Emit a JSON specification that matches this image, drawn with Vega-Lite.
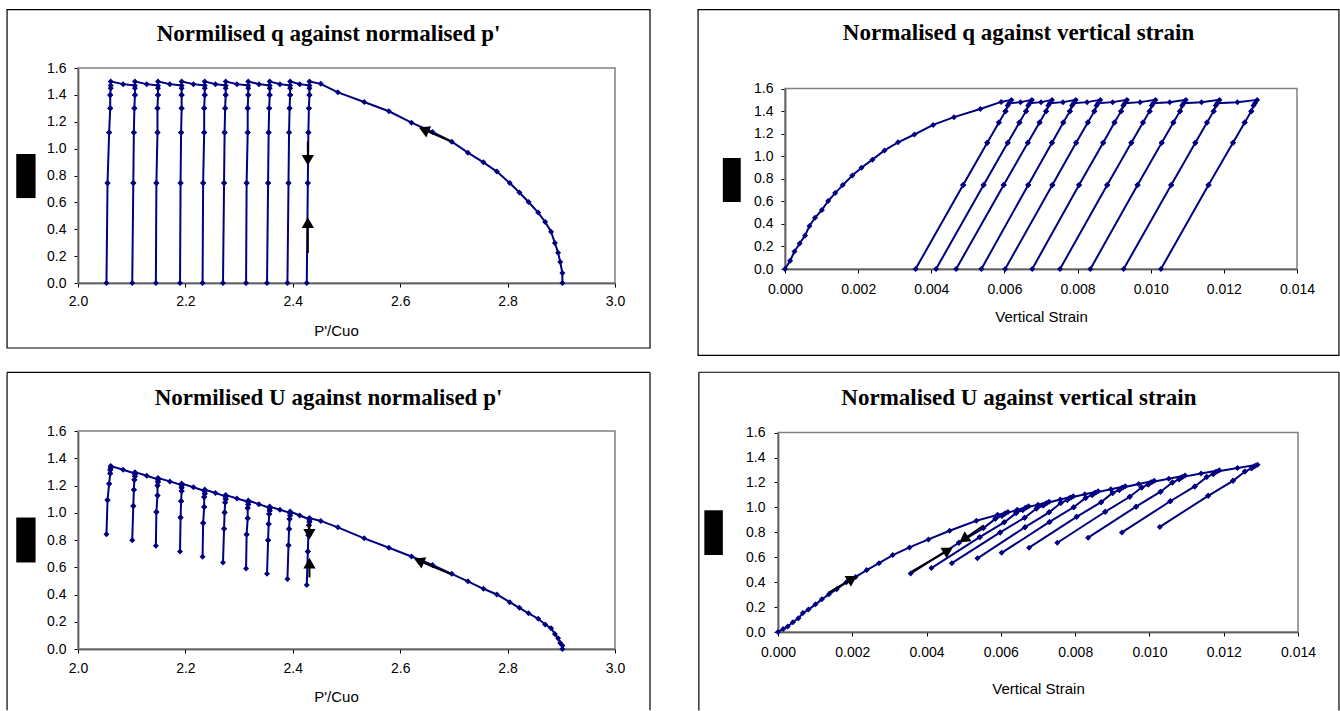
{
"$schema": "https://vega.github.io/schema/vega-lite/v6.json",
"background": "white",
"padding": {"left": 6, "top": 8, "right": 0, "bottom": 0},
"config": {
  "view": {"stroke": null},
  "axis": {"labelFont": "Liberation Sans", "titleFont": "Liberation Sans", "labelFontSize": 14, "titleFontSize": 15, "titleFontWeight": "normal", "labelColor": "#000", "titleColor": "#000", "domainColor": "#000", "tickColor": "#000", "grid": false, "tickSize": 4, "domainWidth": 1.5, "labelFlush": false, "labelOverlap": false, "zindex": 1},
  "title": {"font": "Liberation Serif", "fontSize": 23, "fontWeight": "bold", "color": "#000"}
},
"datasets": {
  "test": [
    {"i":1,"p":2.902,"q":0.000,"u":0.000,"e":0.00000},
    {"i":2,"p":2.902,"q":0.074,"u":0.025,"e":0.00014},
    {"i":3,"p":2.898,"q":0.156,"u":0.044,"e":0.00026},
    {"i":4,"p":2.894,"q":0.226,"u":0.078,"e":0.00040},
    {"i":5,"p":2.888,"q":0.298,"u":0.110,"e":0.00055},
    {"i":6,"p":2.881,"q":0.382,"u":0.152,"e":0.00067},
    {"i":7,"p":2.870,"q":0.454,"u":0.180,"e":0.00082},
    {"i":8,"p":2.857,"q":0.524,"u":0.222,"e":0.00101},
    {"i":9,"p":2.839,"q":0.603,"u":0.262,"e":0.00118},
    {"i":10,"p":2.822,"q":0.673,"u":0.302,"e":0.00137},
    {"i":11,"p":2.804,"q":0.744,"u":0.344,"e":0.00158},
    {"i":12,"p":2.780,"q":0.829,"u":0.400,"e":0.00184},
    {"i":13,"p":2.755,"q":0.898,"u":0.442,"e":0.00209},
    {"i":14,"p":2.726,"q":0.970,"u":0.497,"e":0.00239},
    {"i":15,"p":2.696,"q":1.052,"u":0.552,"e":0.00272},
    {"i":16,"p":2.660,"q":1.124,"u":0.617,"e":0.00309},
    {"i":17,"p":2.621,"q":1.193,"u":0.679,"e":0.00354},
    {"i":18,"p":2.579,"q":1.278,"u":0.743,"e":0.00405},
    {"i":19,"p":2.533,"q":1.347,"u":0.812,"e":0.00462},
    {"i":20,"p":2.484,"q":1.419,"u":0.893,"e":0.00534},
    {"i":21,"p":2.452,"q":1.482,"u":0.940,"e":0.00591},
    {"i":22,"p":2.431,"q":1.500,"u":0.962,"e":0.00619},
    {"i":23,"p":2.431,"q":1.450,"u":0.947,"e":0.00609},
    {"i":24,"p":2.431,"q":1.400,"u":0.932,"e":0.00603},
    {"i":25,"p":2.430,"q":1.300,"u":0.908,"e":0.00585},
    {"i":26,"p":2.429,"q":1.120,"u":0.834,"e":0.00553},
    {"i":27,"p":2.428,"q":0.745,"u":0.716,"e":0.00487},
    {"i":28,"p":2.426,"q":0.000,"u":0.469,"e":0.00357},
    {"i":29,"p":2.428,"q":0.745,"u":0.716,"e":0.00487},
    {"i":30,"p":2.429,"q":1.120,"u":0.834,"e":0.00553},
    {"i":31,"p":2.430,"q":1.300,"u":0.908,"e":0.00585},
    {"i":32,"p":2.431,"q":1.400,"u":0.932,"e":0.00603},
    {"i":33,"p":2.431,"q":1.470,"u":0.952,"e":0.00613},
    {"i":34,"p":2.413,"q":1.480,"u":0.980,"e":0.00644},
    {"i":35,"p":2.395,"q":1.500,"u":1.009,"e":0.00675},
    {"i":36,"p":2.395,"q":1.450,"u":0.994,"e":0.00665},
    {"i":37,"p":2.395,"q":1.400,"u":0.979,"e":0.00659},
    {"i":38,"p":2.394,"q":1.300,"u":0.954,"e":0.00641},
    {"i":39,"p":2.393,"q":1.120,"u":0.880,"e":0.00609},
    {"i":40,"p":2.392,"q":0.745,"u":0.761,"e":0.00543},
    {"i":41,"p":2.390,"q":0.000,"u":0.513,"e":0.00413},
    {"i":42,"p":2.392,"q":0.745,"u":0.761,"e":0.00543},
    {"i":43,"p":2.393,"q":1.120,"u":0.880,"e":0.00609},
    {"i":44,"p":2.394,"q":1.300,"u":0.954,"e":0.00641},
    {"i":45,"p":2.395,"q":1.400,"u":0.979,"e":0.00659},
    {"i":46,"p":2.395,"q":1.470,"u":0.999,"e":0.00669},
    {"i":47,"p":2.376,"q":1.480,"u":1.022,"e":0.00700},
    {"i":48,"p":2.357,"q":1.500,"u":1.045,"e":0.00730},
    {"i":49,"p":2.357,"q":1.450,"u":1.030,"e":0.00720},
    {"i":50,"p":2.357,"q":1.400,"u":1.015,"e":0.00714},
    {"i":51,"p":2.356,"q":1.300,"u":0.991,"e":0.00696},
    {"i":52,"p":2.355,"q":1.120,"u":0.917,"e":0.00664},
    {"i":53,"p":2.354,"q":0.745,"u":0.799,"e":0.00598},
    {"i":54,"p":2.352,"q":0.000,"u":0.552,"e":0.00468},
    {"i":55,"p":2.354,"q":0.745,"u":0.799,"e":0.00598},
    {"i":56,"p":2.355,"q":1.120,"u":0.917,"e":0.00664},
    {"i":57,"p":2.356,"q":1.300,"u":0.991,"e":0.00696},
    {"i":58,"p":2.357,"q":1.400,"u":1.015,"e":0.00714},
    {"i":59,"p":2.357,"q":1.470,"u":1.035,"e":0.00724},
    {"i":60,"p":2.337,"q":1.480,"u":1.063,"e":0.00760},
    {"i":61,"p":2.317,"q":1.500,"u":1.090,"e":0.00795},
    {"i":62,"p":2.317,"q":1.450,"u":1.075,"e":0.00785},
    {"i":63,"p":2.317,"q":1.400,"u":1.060,"e":0.00779},
    {"i":64,"p":2.316,"q":1.300,"u":1.035,"e":0.00761},
    {"i":65,"p":2.316,"q":1.120,"u":0.960,"e":0.00730},
    {"i":66,"p":2.314,"q":0.745,"u":0.841,"e":0.00665},
    {"i":67,"p":2.313,"q":0.000,"u":0.591,"e":0.00537},
    {"i":68,"p":2.314,"q":0.745,"u":0.841,"e":0.00665},
    {"i":69,"p":2.316,"q":1.120,"u":0.960,"e":0.00730},
    {"i":70,"p":2.316,"q":1.300,"u":1.035,"e":0.00761},
    {"i":71,"p":2.317,"q":1.400,"u":1.060,"e":0.00779},
    {"i":72,"p":2.317,"q":1.470,"u":1.080,"e":0.00789},
    {"i":73,"p":2.296,"q":1.480,"u":1.105,"e":0.00826},
    {"i":74,"p":2.275,"q":1.500,"u":1.130,"e":0.00862},
    {"i":75,"p":2.275,"q":1.450,"u":1.115,"e":0.00852},
    {"i":76,"p":2.275,"q":1.400,"u":1.100,"e":0.00846},
    {"i":77,"p":2.274,"q":1.300,"u":1.076,"e":0.00828},
    {"i":78,"p":2.273,"q":1.120,"u":1.001,"e":0.00796},
    {"i":79,"p":2.272,"q":0.745,"u":0.883,"e":0.00731},
    {"i":80,"p":2.270,"q":0.000,"u":0.635,"e":0.00602},
    {"i":81,"p":2.272,"q":0.745,"u":0.883,"e":0.00731},
    {"i":82,"p":2.273,"q":1.120,"u":1.001,"e":0.00796},
    {"i":83,"p":2.274,"q":1.300,"u":1.076,"e":0.00828},
    {"i":84,"p":2.275,"q":1.400,"u":1.100,"e":0.00846},
    {"i":85,"p":2.275,"q":1.470,"u":1.120,"e":0.00856},
    {"i":86,"p":2.256,"q":1.480,"u":1.145,"e":0.00896},
    {"i":87,"p":2.236,"q":1.500,"u":1.170,"e":0.00935},
    {"i":88,"p":2.236,"q":1.450,"u":1.155,"e":0.00925},
    {"i":89,"p":2.236,"q":1.400,"u":1.140,"e":0.00919},
    {"i":90,"p":2.235,"q":1.300,"u":1.116,"e":0.00901},
    {"i":91,"p":2.235,"q":1.120,"u":1.042,"e":0.00870},
    {"i":92,"p":2.233,"q":0.745,"u":0.924,"e":0.00804},
    {"i":93,"p":2.232,"q":0.000,"u":0.677,"e":0.00676},
    {"i":94,"p":2.233,"q":0.745,"u":0.924,"e":0.00804},
    {"i":95,"p":2.235,"q":1.120,"u":1.042,"e":0.00870},
    {"i":96,"p":2.235,"q":1.300,"u":1.116,"e":0.00901},
    {"i":97,"p":2.236,"q":1.400,"u":1.140,"e":0.00919},
    {"i":98,"p":2.236,"q":1.470,"u":1.160,"e":0.00929},
    {"i":99,"p":2.215,"q":1.480,"u":1.187,"e":0.00971},
    {"i":100,"p":2.193,"q":1.500,"u":1.214,"e":0.01013},
    {"i":101,"p":2.193,"q":1.450,"u":1.199,"e":0.01003},
    {"i":102,"p":2.193,"q":1.400,"u":1.184,"e":0.00997},
    {"i":103,"p":2.193,"q":1.300,"u":1.159,"e":0.00979},
    {"i":104,"p":2.192,"q":1.120,"u":1.085,"e":0.00947},
    {"i":105,"p":2.191,"q":0.745,"u":0.965,"e":0.00881},
    {"i":106,"p":2.190,"q":0.000,"u":0.716,"e":0.00752},
    {"i":107,"p":2.191,"q":0.745,"u":0.965,"e":0.00881},
    {"i":108,"p":2.192,"q":1.120,"u":1.085,"e":0.00947},
    {"i":109,"p":2.193,"q":1.300,"u":1.159,"e":0.00979},
    {"i":110,"p":2.193,"q":1.400,"u":1.184,"e":0.00997},
    {"i":111,"p":2.193,"q":1.470,"u":1.204,"e":0.01007},
    {"i":112,"p":2.171,"q":1.480,"u":1.230,"e":0.01052},
    {"i":113,"p":2.149,"q":1.500,"u":1.255,"e":0.01096},
    {"i":114,"p":2.149,"q":1.450,"u":1.240,"e":0.01086},
    {"i":115,"p":2.149,"q":1.400,"u":1.225,"e":0.01080},
    {"i":116,"p":2.148,"q":1.300,"u":1.200,"e":0.01062},
    {"i":117,"p":2.148,"q":1.120,"u":1.126,"e":0.01030},
    {"i":118,"p":2.146,"q":0.745,"u":1.006,"e":0.00964},
    {"i":119,"p":2.145,"q":0.000,"u":0.757,"e":0.00835},
    {"i":120,"p":2.146,"q":0.745,"u":1.006,"e":0.00964},
    {"i":121,"p":2.148,"q":1.120,"u":1.126,"e":0.01030},
    {"i":122,"p":2.148,"q":1.300,"u":1.200,"e":0.01062},
    {"i":123,"p":2.149,"q":1.400,"u":1.225,"e":0.01080},
    {"i":124,"p":2.149,"q":1.470,"u":1.245,"e":0.01090},
    {"i":125,"p":2.128,"q":1.480,"u":1.272,"e":0.01139},
    {"i":126,"p":2.106,"q":1.500,"u":1.298,"e":0.01188},
    {"i":127,"p":2.106,"q":1.450,"u":1.283,"e":0.01178},
    {"i":128,"p":2.106,"q":1.400,"u":1.268,"e":0.01172},
    {"i":129,"p":2.105,"q":1.300,"u":1.243,"e":0.01154},
    {"i":130,"p":2.104,"q":1.120,"u":1.168,"e":0.01122},
    {"i":131,"p":2.103,"q":0.745,"u":1.049,"e":0.01056},
    {"i":132,"p":2.101,"q":0.000,"u":0.799,"e":0.00926},
    {"i":133,"p":2.103,"q":0.745,"u":1.049,"e":0.01056},
    {"i":134,"p":2.104,"q":1.120,"u":1.168,"e":0.01122},
    {"i":135,"p":2.105,"q":1.300,"u":1.243,"e":0.01154},
    {"i":136,"p":2.106,"q":1.400,"u":1.268,"e":0.01172},
    {"i":137,"p":2.106,"q":1.470,"u":1.288,"e":0.01182},
    {"i":138,"p":2.084,"q":1.480,"u":1.316,"e":0.01237},
    {"i":139,"p":2.061,"q":1.500,"u":1.343,"e":0.01291},
    {"i":140,"p":2.061,"q":1.450,"u":1.328,"e":0.01281},
    {"i":141,"p":2.060,"q":1.400,"u":1.313,"e":0.01275},
    {"i":142,"p":2.060,"q":1.300,"u":1.288,"e":0.01257},
    {"i":143,"p":2.058,"q":1.120,"u":1.213,"e":0.01225},
    {"i":144,"p":2.055,"q":0.745,"u":1.093,"e":0.01158},
    {"i":145,"p":2.053,"q":0.000,"u":0.843,"e":0.01028},
    {"i":146,"p":2.055,"q":0.745,"u":1.093,"e":0.01158},
    {"i":147,"p":2.058,"q":1.120,"u":1.213,"e":0.01225},
    {"i":148,"p":2.060,"q":1.300,"u":1.288,"e":0.01257},
    {"i":149,"p":2.060,"q":1.400,"u":1.313,"e":0.01275},
    {"i":150,"p":2.061,"q":1.470,"u":1.333,"e":0.01285}
  ],
  "arrP1": [
    {"id":"diag","x":2.694,"y":1.054,"x2":2.644,"y2":1.141},
    {"id":"down","x":2.428,"y":1.054,"x2":2.428,"y2":0.913},
    {"id":"up","x":2.428,"y":0.223,"x2":2.428,"y2":0.449}
  ],
  "arrP3": [
    {"id":"diag","x":2.694,"y":0.549,"x2":2.635,"y2":0.647},
    {"id":"down","x":2.431,"y":0.93,"x2":2.431,"y2":0.842},
    {"id":"up","x":2.431,"y":0.525,"x2":2.431,"y2":0.630}
  ],
  "arrP4": [
    {"id":"a","x":0.00137,"y":0.316,"x2":0.0020,"y2":0.428},
    {"id":"b","x":0.00359,"y":0.482,"x2":0.00458,"y2":0.655},
    {"id":"c","x":0.00554,"y":0.856,"x2":0.0050,"y2":0.744}
  ]
},
"spacing": 15,
"vconcat": [
{
 "spacing": 46,
 "hconcat": [
 {
  "width": 537, "height": 215,
  "title": {"text": "Normilised q against normalised p'", "offset": -59.5, "frame": "bounds", "anchor": "middle", "baseline": "bottom"},
  "layer": [
   {"data": {"values": [{}]}, "mark": {"type": "rect", "fill": "transparent", "stroke": "#000", "strokeWidth": 1.2},
    "encoding": {"x": {"datum": 1.8679, "type": "quantitative", "scale": {"domain": [2, 3], "nice": false, "zero": false}}, "x2": {"datum": 3.0652},
                 "y": {"datum": 2.034, "type": "quantitative", "scale": {"domain": [0, 1.6], "nice": false, "zero": false}}, "y2": {"datum": -0.4836}}},
   {"data": {"values": [{}]}, "mark": {"type": "rect", "fill": "transparent", "stroke": "#808080", "strokeWidth": 1.5},
    "encoding": {"x": {"datum": 2, "type": "quantitative", "scale": {"domain": [2, 3], "nice": false, "zero": false}}, "x2": {"datum": 3},
                 "y": {"datum": 1.6, "type": "quantitative", "scale": {"domain": [0, 1.6], "nice": false, "zero": false}}, "y2": {"datum": 0}}},
   {"data": {"values": [{}]}, "mark": {"type": "rect", "fill": "#000"},
    "encoding": {"x": {"datum": 1.885, "type": "quantitative", "scale": {"domain": [2, 3], "nice": false, "zero": false}}, "x2": {"datum": 1.921},
                 "y": {"datum": 0.960, "type": "quantitative", "scale": {"domain": [0, 1.6], "nice": false, "zero": false}}, "y2": {"datum": 0.632}}},
   {"data": {"name": "test"}, "mark": {"type": "line", "color": "#000080", "strokeWidth": 2, "point": {"filled": true, "shape": "diamond", "size": 36, "color": "#000080"}},
    "encoding": {"x": {"field": "p", "type": "quantitative", "scale": {"domain": [2, 3], "nice": false, "zero": false}, "axis": {"values": [2, 2.2, 2.4, 2.6, 2.8, 3], "tickCount": 20, "format": ".1f", "title": "P'/Cuo", "labelPadding": 7, "titlePadding": 15, "titleX": 258, "labelOverlap": false}},
                 "y": {"field": "q", "type": "quantitative", "scale": {"domain": [0, 1.6], "nice": false, "zero": false}, "axis": {"values": [0, 0.2, 0.4, 0.6, 0.8, 1, 1.2, 1.4, 1.6], "tickCount": 20, "format": ".1f", "title": null, "labelPadding": 8, "labelOverlap": false}},
                 "order": {"field": "i", "type": "quantitative"}}},
   {"data": {"name": "arrP1"}, "mark": {"type": "rule", "color": "#000", "strokeWidth": 2},
    "encoding": {"x": {"field": "x", "type": "quantitative", "scale": {"domain": [2, 3], "nice": false, "zero": false}}, "x2": {"field": "x2"},
                 "y": {"field": "y", "type": "quantitative", "scale": {"domain": [0, 1.6], "nice": false, "zero": false}}, "y2": {"field": "y2"}}},
   {"data": {"name": "arrP1"}, "transform": [{"filter": "datum.id == 'diag'"}], "mark": {"type": "point", "shape": "triangle-up", "angle": 293.4, "filled": true, "size": 150, "color": "#000", "opacity": 1},
    "encoding": {"x": {"field": "x2", "type": "quantitative", "scale": {"domain": [2, 3], "nice": false, "zero": false}}, "y": {"field": "y2", "type": "quantitative", "scale": {"domain": [0, 1.6], "nice": false, "zero": false}}}},
   {"data": {"name": "arrP1"}, "transform": [{"filter": "datum.id == 'down'"}], "mark": {"type": "point", "shape": "triangle-down", "filled": true, "size": 150, "color": "#000", "opacity": 1},
    "encoding": {"x": {"field": "x2", "type": "quantitative", "scale": {"domain": [2, 3], "nice": false, "zero": false}}, "y": {"field": "y2", "type": "quantitative", "scale": {"domain": [0, 1.6], "nice": false, "zero": false}}}},
   {"data": {"name": "arrP1"}, "transform": [{"filter": "datum.id == 'up'"}], "mark": {"type": "point", "shape": "triangle-up", "filled": true, "size": 150, "color": "#000", "opacity": 1},
    "encoding": {"x": {"field": "x2", "type": "quantitative", "scale": {"domain": [2, 3], "nice": false, "zero": false}}, "y": {"field": "y2", "type": "quantitative", "scale": {"domain": [0, 1.6], "nice": false, "zero": false}}}}
  ]
 },
 {
  "width": 512, "height": 201,
  "title": {"text": "Normalised q against vertical strain", "offset": -59.5, "frame": "bounds", "anchor": "middle", "baseline": "bottom"},
  "layer": [
   {"data": {"values": [{}]}, "mark": {"type": "rect", "fill": "transparent", "stroke": "#000", "strokeWidth": 1.2},
    "encoding": {"x": {"datum": -0.002377, "type": "quantitative", "scale": {"domain": [0, 0.014], "nice": false, "zero": false}}, "x2": {"datum": 0.015147},
                 "y": {"datum": 2.3007, "type": "quantitative", "scale": {"domain": [0, 1.6], "range": [201, 20.6], "nice": false, "zero": false}}, "y2": {"datum": -0.7654}}},
   {"data": {"values": [{}]}, "mark": {"type": "rect", "fill": "transparent", "stroke": "#808080", "strokeWidth": 1.5},
    "encoding": {"x": {"datum": 0, "type": "quantitative", "scale": {"domain": [0, 0.014], "nice": false, "zero": false}}, "x2": {"datum": 0.014},
                 "y": {"datum": 1.6, "type": "quantitative", "scale": {"domain": [0, 1.6], "range": [201, 20.6], "nice": false, "zero": false}}, "y2": {"datum": 0}}},
   {"data": {"values": [{}]}, "mark": {"type": "rect", "fill": "#000"},
    "encoding": {"x": {"datum": -0.0017, "type": "quantitative", "scale": {"domain": [0, 0.014], "nice": false, "zero": false}}, "x2": {"datum": -0.00121},
                 "y": {"datum": 0.9845, "type": "quantitative", "scale": {"domain": [0, 1.6], "range": [201, 20.6], "nice": false, "zero": false}}, "y2": {"datum": 0.594}}},
   {"data": {"name": "test"}, "mark": {"type": "line", "color": "#000080", "strokeWidth": 2, "point": {"filled": true, "shape": "diamond", "size": 36, "color": "#000080"}},
    "encoding": {"x": {"field": "e", "type": "quantitative", "scale": {"domain": [0, 0.014], "nice": false, "zero": false}, "axis": {"values": [0, 0.002, 0.004, 0.006, 0.008, 0.01, 0.012, 0.014], "tickCount": 20, "format": ".3f", "title": "Vertical Strain", "labelPadding": 9, "titlePadding": 13, "labelOverlap": false}},
                 "y": {"field": "q", "type": "quantitative", "scale": {"domain": [0, 1.6], "range": [201, 20.6], "nice": false, "zero": false}, "axis": {"values": [0, 0.2, 0.4, 0.6, 0.8, 1, 1.2, 1.4, 1.6], "tickCount": 20, "format": ".1f", "title": null, "labelPadding": 8, "labelOverlap": false}},
                 "order": {"field": "i", "type": "quantitative"}}}
  ]
 }
 ]
},
{
 "spacing": 47,
 "hconcat": [
 {
  "width": 537, "height": 218,
  "title": {"text": "Normilised U against normalised p'", "offset": -61, "frame": "bounds", "anchor": "middle", "baseline": "bottom"},
  "layer": [
   {"data": {"values": [{}]}, "mark": {"type": "rule", "color": "#000", "strokeWidth": 1.2},
    "encoding": {"x": {"datum": 1.8679, "type": "quantitative", "scale": {"domain": [2, 3], "nice": false, "zero": false}}, "x2": {"datum": 3.0652},
                 "y": {"datum": 2.0302, "type": "quantitative", "scale": {"domain": [0, 1.6], "nice": false, "zero": false}}}},
   {"data": {"values": [{}]}, "mark": {"type": "rule", "color": "#000", "strokeWidth": 1.2},
    "encoding": {"x": {"datum": 1.8679, "type": "quantitative", "scale": {"domain": [2, 3], "nice": false, "zero": false}},
                 "y": {"datum": 2.0302, "type": "quantitative", "scale": {"domain": [0, 1.6], "nice": false, "zero": false}}, "y2": {"datum": -0.45}}},
   {"data": {"values": [{}]}, "mark": {"type": "rule", "color": "#000", "strokeWidth": 1.2},
    "encoding": {"x": {"datum": 3.0652, "type": "quantitative", "scale": {"domain": [2, 3], "nice": false, "zero": false}},
                 "y": {"datum": 2.0302, "type": "quantitative", "scale": {"domain": [0, 1.6], "nice": false, "zero": false}}, "y2": {"datum": -0.45}}},
   {"data": {"values": [{}]}, "mark": {"type": "rect", "fill": "transparent", "stroke": "#808080", "strokeWidth": 1.5},
    "encoding": {"x": {"datum": 2, "type": "quantitative", "scale": {"domain": [2, 3], "nice": false, "zero": false}}, "x2": {"datum": 3},
                 "y": {"datum": 1.6, "type": "quantitative", "scale": {"domain": [0, 1.6], "nice": false, "zero": false}}, "y2": {"datum": 0}}},
   {"data": {"values": [{}]}, "mark": {"type": "rect", "fill": "#000"},
    "encoding": {"x": {"datum": 1.885, "type": "quantitative", "scale": {"domain": [2, 3], "nice": false, "zero": false}}, "x2": {"datum": 1.921},
                 "y": {"datum": 0.965, "type": "quantitative", "scale": {"domain": [0, 1.6], "nice": false, "zero": false}}, "y2": {"datum": 0.635}}},
   {"data": {"name": "test"}, "mark": {"type": "line", "color": "#000080", "strokeWidth": 2, "point": {"filled": true, "shape": "diamond", "size": 36, "color": "#000080"}},
    "encoding": {"x": {"field": "p", "type": "quantitative", "scale": {"domain": [2, 3], "nice": false, "zero": false}, "axis": {"values": [2, 2.2, 2.4, 2.6, 2.8, 3], "tickCount": 20, "format": ".1f", "title": "P'/Cuo", "labelPadding": 8, "titlePadding": 14, "titleX": 258, "labelOverlap": false}},
                 "y": {"field": "u", "type": "quantitative", "scale": {"domain": [0, 1.6], "nice": false, "zero": false}, "axis": {"values": [0, 0.2, 0.4, 0.6, 0.8, 1, 1.2, 1.4, 1.6], "tickCount": 20, "format": ".1f", "title": null, "labelPadding": 8, "labelOverlap": false}},
                 "order": {"field": "i", "type": "quantitative"}}},
   {"data": {"name": "arrP3"}, "mark": {"type": "rule", "color": "#000", "strokeWidth": 2},
    "encoding": {"x": {"field": "x", "type": "quantitative", "scale": {"domain": [2, 3], "nice": false, "zero": false}}, "x2": {"field": "x2"},
                 "y": {"field": "y", "type": "quantitative", "scale": {"domain": [0, 1.6], "nice": false, "zero": false}}, "y2": {"field": "y2"}}},
   {"data": {"name": "arrP3"}, "transform": [{"filter": "datum.id == 'diag'"}], "mark": {"type": "point", "shape": "triangle-up", "angle": 292.9, "filled": true, "size": 150, "color": "#000", "opacity": 1},
    "encoding": {"x": {"field": "x2", "type": "quantitative", "scale": {"domain": [2, 3], "nice": false, "zero": false}}, "y": {"field": "y2", "type": "quantitative", "scale": {"domain": [0, 1.6], "nice": false, "zero": false}}}},
   {"data": {"name": "arrP3"}, "transform": [{"filter": "datum.id == 'down'"}], "mark": {"type": "point", "shape": "triangle-down", "filled": true, "size": 150, "color": "#000", "opacity": 1},
    "encoding": {"x": {"field": "x2", "type": "quantitative", "scale": {"domain": [2, 3], "nice": false, "zero": false}}, "y": {"field": "y2", "type": "quantitative", "scale": {"domain": [0, 1.6], "nice": false, "zero": false}}}},
   {"data": {"name": "arrP3"}, "transform": [{"filter": "datum.id == 'up'"}], "mark": {"type": "point", "shape": "triangle-up", "filled": true, "size": 150, "color": "#000", "opacity": 1},
    "encoding": {"x": {"field": "x2", "type": "quantitative", "scale": {"domain": [2, 3], "nice": false, "zero": false}}, "y": {"field": "y2", "type": "quantitative", "scale": {"domain": [0, 1.6], "nice": false, "zero": false}}}}
  ]
 },
 {
  "width": 520, "height": 201,
  "title": {"text": "Normalised U against vertical strain", "offset": -61, "frame": "bounds", "anchor": "middle", "baseline": "bottom"},
  "layer": [
   {"data": {"values": [{}]}, "mark": {"type": "rule", "color": "#000", "strokeWidth": 1.2},
    "encoding": {"x": {"datum": -0.002131, "type": "quantitative", "scale": {"domain": [0, 0.014], "nice": false, "zero": false}}, "x2": {"datum": 0.015103},
                 "y": {"datum": 2.0843, "type": "quantitative", "scale": {"domain": [0, 1.6], "range": [201, 1.6], "nice": false, "zero": false}}}},
   {"data": {"values": [{}]}, "mark": {"type": "rule", "color": "#000", "strokeWidth": 1.2},
    "encoding": {"x": {"datum": -0.002131, "type": "quantitative", "scale": {"domain": [0, 0.014], "nice": false, "zero": false}},
                 "y": {"datum": 2.0843, "type": "quantitative", "scale": {"domain": [0, 1.6], "range": [201, 1.6], "nice": false, "zero": false}}, "y2": {"datum": -0.63}}},
   {"data": {"values": [{}]}, "mark": {"type": "rule", "color": "#000", "strokeWidth": 1.2},
    "encoding": {"x": {"datum": 0.015103, "type": "quantitative", "scale": {"domain": [0, 0.014], "nice": false, "zero": false}},
                 "y": {"datum": 2.0843, "type": "quantitative", "scale": {"domain": [0, 1.6], "range": [201, 1.6], "nice": false, "zero": false}}, "y2": {"datum": -0.63}}},
   {"data": {"values": [{}]}, "mark": {"type": "rect", "fill": "transparent", "stroke": "#808080", "strokeWidth": 1.5},
    "encoding": {"x": {"datum": 0, "type": "quantitative", "scale": {"domain": [0, 0.014], "nice": false, "zero": false}}, "x2": {"datum": 0.014},
                 "y": {"datum": 1.6, "type": "quantitative", "scale": {"domain": [0, 1.6], "range": [201, 1.6], "nice": false, "zero": false}}, "y2": {"datum": 0}}},
   {"data": {"values": [{}]}, "mark": {"type": "rect", "fill": "#000"},
    "encoding": {"x": {"datum": -0.001983, "type": "quantitative", "scale": {"domain": [0, 0.014], "nice": false, "zero": false}}, "x2": {"datum": -0.001485},
                 "y": {"datum": 0.9767, "type": "quantitative", "scale": {"domain": [0, 1.6], "range": [201, 1.6], "nice": false, "zero": false}}, "y2": {"datum": 0.618}}},
   {"data": {"name": "test"}, "mark": {"type": "line", "color": "#000080", "strokeWidth": 2, "point": {"filled": true, "shape": "diamond", "size": 36, "color": "#000080"}},
    "encoding": {"x": {"field": "e", "type": "quantitative", "scale": {"domain": [0, 0.014], "nice": false, "zero": false}, "axis": {"values": [0, 0.002, 0.004, 0.006, 0.008, 0.01, 0.012, 0.014], "tickCount": 20, "format": ".3f", "title": "Vertical Strain", "labelPadding": 9, "titlePadding": 22, "labelOverlap": false}},
                 "y": {"field": "u", "type": "quantitative", "scale": {"domain": [0, 1.6], "range": [201, 1.6], "nice": false, "zero": false}, "axis": {"values": [0, 0.2, 0.4, 0.6, 0.8, 1, 1.2, 1.4, 1.6], "tickCount": 20, "format": ".1f", "title": null, "labelPadding": 9, "labelOverlap": false}},
                 "order": {"field": "i", "type": "quantitative"}}},
   {"data": {"name": "arrP4"}, "mark": {"type": "rule", "color": "#000", "strokeWidth": 2},
    "encoding": {"x": {"field": "x", "type": "quantitative", "scale": {"domain": [0, 0.014], "nice": false, "zero": false}}, "x2": {"field": "x2"},
                 "y": {"field": "y", "type": "quantitative", "scale": {"domain": [0, 1.6], "range": [201, 1.6], "nice": false, "zero": false}}, "y2": {"field": "y2"}}},
   {"data": {"name": "arrP4"}, "transform": [{"filter": "datum.id == 'a'"}], "mark": {"type": "point", "shape": "triangle-up", "angle": 59.2, "filled": true, "size": 150, "color": "#000", "opacity": 1},
    "encoding": {"x": {"field": "x2", "type": "quantitative", "scale": {"domain": [0, 0.014], "nice": false, "zero": false}}, "y": {"field": "y2", "type": "quantitative", "scale": {"domain": [0, 1.6], "range": [201, 1.6], "nice": false, "zero": false}}}},
   {"data": {"name": "arrP4"}, "transform": [{"filter": "datum.id == 'b'"}], "mark": {"type": "point", "shape": "triangle-up", "angle": 59.6, "filled": true, "size": 150, "color": "#000", "opacity": 1},
    "encoding": {"x": {"field": "x2", "type": "quantitative", "scale": {"domain": [0, 0.014], "nice": false, "zero": false}}, "y": {"field": "y2", "type": "quantitative", "scale": {"domain": [0, 1.6], "range": [201, 1.6], "nice": false, "zero": false}}}},
   {"data": {"name": "arrP4"}, "transform": [{"filter": "datum.id == 'c'"}], "mark": {"type": "point", "shape": "triangle-up", "angle": 235.2, "filled": true, "size": 150, "color": "#000", "opacity": 1},
    "encoding": {"x": {"field": "x2", "type": "quantitative", "scale": {"domain": [0, 0.014], "nice": false, "zero": false}}, "y": {"field": "y2", "type": "quantitative", "scale": {"domain": [0, 1.6], "range": [201, 1.6], "nice": false, "zero": false}}}}
  ]
 }
 ]
}
]
}
